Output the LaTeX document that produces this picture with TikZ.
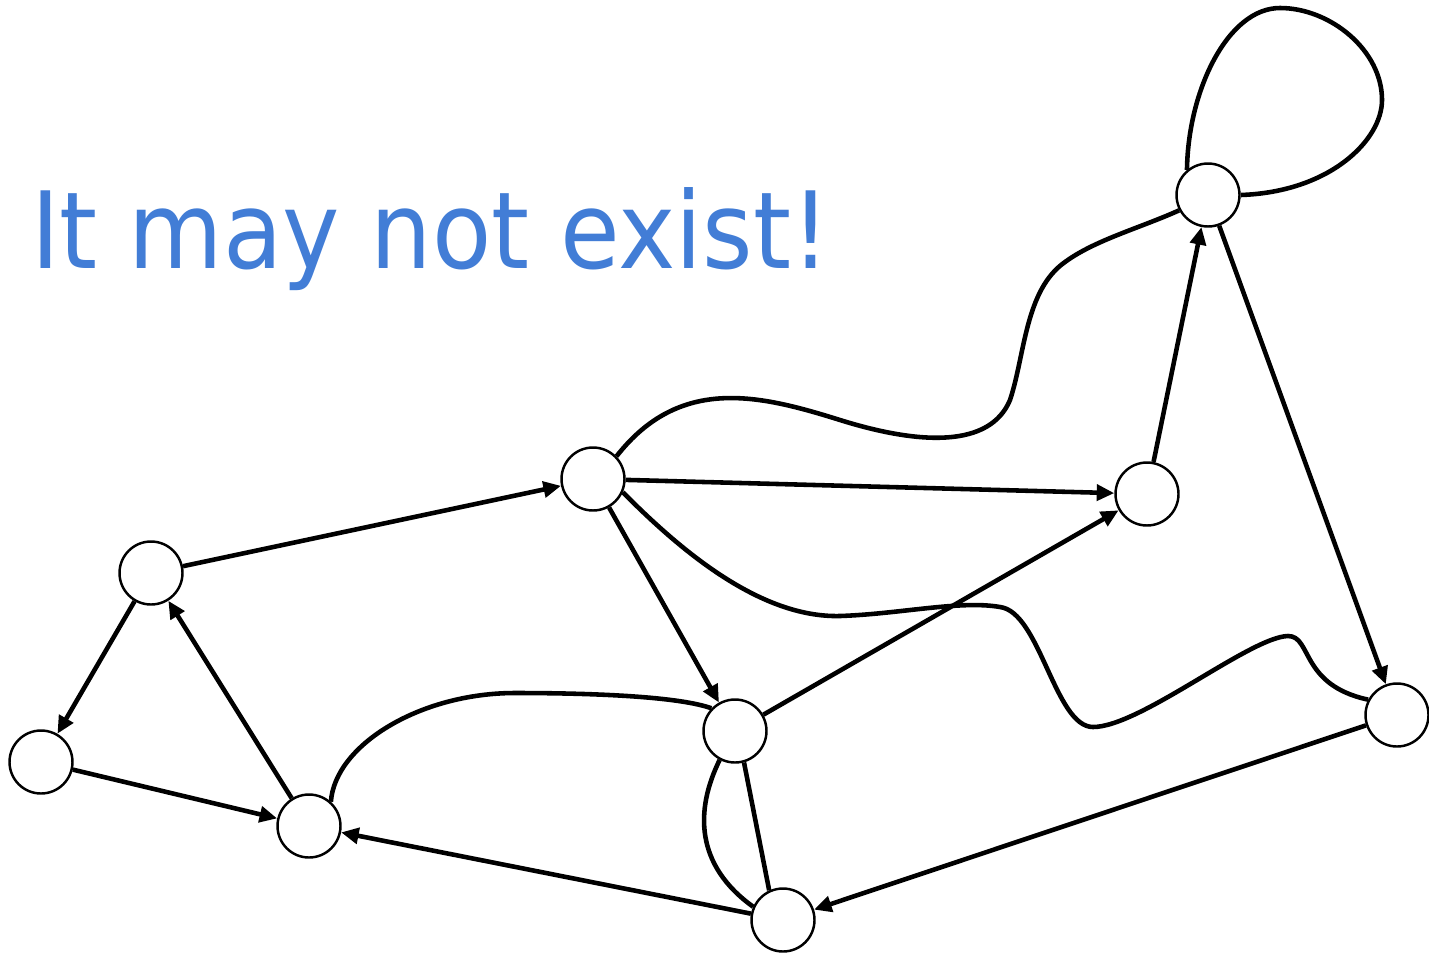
\documentclass[tikz,border=0pt]{standalone}
\usepackage{fontspec}
\newfontfamily\notefont{DejaVu Sans}
\usetikzlibrary{arrows.meta}
\definecolor{noteblue}{RGB}{66,125,214}

\begin{document}
\begin{tikzpicture}[x=0.02cm,y=-0.02cm,>={Triangle[length=10pt,width=9pt]},line width=2.6pt]
\tikzstyle{v}=[circle,draw,line width=1.4pt,minimum size=1.26cm,inner sep=0pt,fill=white]
\tikzstyle{e}=[->,line width=2.6pt]
\useasboundingbox (0,0) rectangle (1429,954);
\node[anchor=base west,inner sep=0pt,text=noteblue] (note) at (29,268) {\resizebox{15.98cm}{1.62cm}{\notefont It may not exist!}};
% vertices
\node[v] (a) at (151,573) {};
\node[v] (b) at (41,762) {};
\node[v] (c) at (309,826) {};
\node[v] (d) at (593,479) {};
\node[v] (e) at (735,731) {};
\node[v] (f) at (783,920) {};
\node[v] (g) at (1147,494) {};
\node[v] (h) at (1208,195) {};
\node[v] (i) at (1397,715) {};
% directed edges
\draw[e] (a) -- (d);
\draw[e] (a) -- (b);
\draw[e] (b) -- (c);
\draw[e] (c) -- (a);
\draw[e] (d) -- (g);
\draw[e] (d) -- (e);
\draw[e] (e) -- (g);
\draw[e] (g) -- (h);
\draw[e] (h) -- (i);
\draw[e] (i) -- (f);
\draw[e] (f) -- (c);
% undirected curves
\draw (d.44) .. controls (680,375) and (760,395) .. (840,420)
  .. controls (920,445) and (990,448) .. (1010,400)
  .. controls (1025,355) and (1025,290) .. (1065,262)
  .. controls (1095,240) and (1140,228) .. (h.208);
\draw (d.-24) .. controls (680,550) and (760,618) .. (840,616)
  .. controls (900,614) and (960,600) .. (1000,607)
  .. controls (1040,612) and (1055,727) .. (1093,727)
  .. controls (1140,727) and (1250,637) .. (1288,636)
  .. controls (1312,636) and (1300,685) .. (i.152);
\draw (c.48) .. controls (335,745) and (420,693) .. (515,693)
  .. controls (600,693) and (680,697) .. (e.136);
\draw (e.242) .. controls (695,810) and (695,865) .. (f.156);
\draw (e.286) -- (f.115);
% loop
\draw (h.130) .. controls (1188,90) and (1228,8) .. (1280,8)
  .. controls (1330,8) and (1382,50) .. (1382,100)
  .. controls (1382,140) and (1330,192) .. (h.0);
\end{tikzpicture}
\end{document}
